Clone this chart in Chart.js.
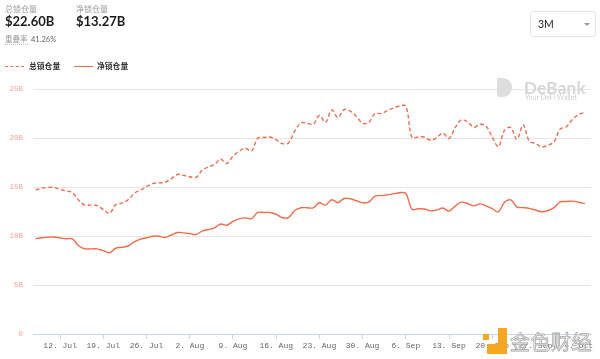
<!DOCTYPE html>
<html>
<head>
<meta charset="utf-8">
<script src="https://cdn.jsdelivr.net/npm/chart.js@4.4.0/dist/chart.umd.min.js"></script>
<style>
  html, body { margin: 0; padding: 0; background: #fff; }
  #wrap { position: relative; width: 600px; height: 359px; overflow: hidden; font-family: Lato, "Noto Sans CJK SC", sans-serif; }
  #chartBox { position: absolute; left: 0; top: 0; width: 600px; height: 359px; }
  .lbl { position: absolute; font-family: "Noto Sans CJK SC", sans-serif; font-size: 8px; color: #9a9a9a; line-height: 1; }
  .big { position: absolute; font-family: Lato, sans-serif; font-weight: 700; font-size: 13px; color: #1a1a1a; line-height: 1; }
  .legend { position: absolute; top: 62px; font-family: "Noto Sans CJK SC", sans-serif; font-weight: 700; font-size: 7.8px; color: #333; line-height: 1; }
  .sw { position: absolute; height: 0; width: 19px; }
  #dd { position: absolute; left: 530px; top: 11px; width: 66px; height: 26px; border: 1px solid #e3e3e3; border-radius: 3px; box-sizing: border-box; }
  #dd span { position: absolute; left: 7px; top: 6px; font-family: Lato, sans-serif; font-size: 10.5px; color: #222; }
  #dd i { position: absolute; left: 53px; top: 11px; width: 0; height: 0; border-left: 3px solid transparent; border-right: 3px solid transparent; border-top: 3px solid #999; }
  #debank { position: absolute; left: 497px; top: 77px; color: #d9d9d9; }
  #debank .logo { position: absolute; left: 0; top: 1px; width: 15px; height: 19px; background: #dedede; border-radius: 2px 9px 9px 2px; }
  #debank .t1 { position: absolute; left: 27px; top: 0px; font-family: Lato, sans-serif; font-weight: 700; font-size: 17px; color: #d6d6d6; letter-spacing: 0.3px; white-space: nowrap; }
  #debank .t2 { position: absolute; left: 28px; top: 16px; font-family: Lato, sans-serif; font-size: 7px; color: #cfcfcf; white-space: nowrap; }
  #jinse { position: absolute; left: 483px; top: 324px; width: 117px; height: 35px; }
  #jinse .o1 { position: absolute; left: 4px; top: 4px; width: 20px; height: 26px; background: #f5a623; clip-path: polygon(55% 0, 100% 0, 100% 100%, 0 100%, 0 62%, 55% 62%); }
  #jinse .o2 { position: absolute; left: 0px; top: 10px; width: 6px; height: 6px; background: #f5a623; }
  #jinse .t { position: absolute; left: 27px; top: 3px; font-family: "Noto Sans CJK SC", sans-serif; font-size: 20px; color: #fff; -webkit-text-stroke: 0.8px #a8a8a8; letter-spacing: 0.5px; white-space: nowrap; }
</style>
</head>
<body>
<div id="wrap">
  <div id="chartBox"><canvas id="c" width="600" height="359"></canvas></div>

  <div class="lbl" style="left:5px;top:5px;">总锁仓量</div>
  <div class="big" style="left:5px;top:15px;">$22.60B</div>
  <div class="lbl" style="left:76px;top:5px;">净锁仓量</div>
  <div class="big" style="left:76px;top:15px;">$13.27B</div>
  <div class="lbl" style="left:5px;top:35px;font-size:7.5px;border-bottom:1px dotted #bbb;padding-bottom:1px;">重叠率</div>
  <div class="lbl" style="left:31px;top:36px;font-family:Lato,sans-serif;font-size:7.5px;color:#666;">41.26%</div>

  <div class="sw" style="left:5px;top:66px;border-top:1.5px dashed #ee6c4d;"></div>
  <div class="legend" style="left:29px;">总锁仓量</div>
  <div class="sw" style="left:74px;top:66px;border-top:1.5px solid #ee6c4d;"></div>
  <div class="legend" style="left:97px;">净锁仓量</div>

  <div id="dd"><span>3M</span><i></i></div>

  <div id="debank"><div class="logo"></div><div class="t1">DeBank</div><div class="t2">Your DeFi Wallet</div></div>
  <div id="jinse"><div class="o1"></div><div class="o2"></div><div class="t">金色财经</div></div>
</div>
<script>
// Day offsets: 0 = 12 Jul; first value is 8 Jul (offset -4), one value per day.
const firstDay = -4;
const tickLabels = ["12. Jul","19. Jul","26. Jul","2. Aug","9. Aug","16. Aug","23. Aug","30. Aug","6. Sep","13. Sep","20. Sep","27. Sep","4. Oct"];
// Total locked value (B USD)
const totalTVL = [14.7,14.88,14.95,14.95,14.75,14.6,14.42,13.65,13.15,13.15,13.1,12.7,12.3,13.2,13.35,13.7,14.35,14.68,15.03,15.35,15.42,15.48,15.85,16.28,16.18,16.05,15.97,16.7,17.05,17.28,17.85,17.4,18.15,18.65,18.95,18.67,19.97,20.05,20.1,19.8,19.43,19.5,20.7,21.55,21.5,21.4,22.3,21.6,22.86,22.08,22.9,22.75,22.2,21.5,21.6,22.5,22.5,22.8,23.05,23.27,23.25,20.05,20.1,20.1,19.77,20.04,20.5,19.94,21.06,21.85,21.65,21.1,21.4,21.2,20.1,19.12,20.8,21.06,19.87,21.33,19.68,19.45,19.08,19.25,19.6,20.9,21.15,21.9,22.4,22.6];
// Net locked value (B USD)
const netTVL = [9.72,9.82,9.87,9.9,9.8,9.72,9.71,9.0,8.69,8.69,8.69,8.5,8.3,8.75,8.85,8.98,9.4,9.68,9.82,9.98,9.98,9.85,10.1,10.36,10.32,10.24,10.15,10.5,10.66,10.84,11.22,11.1,11.5,11.75,11.85,11.76,12.4,12.4,12.4,12.22,11.86,11.9,12.6,12.88,12.88,12.88,13.39,13.15,13.7,13.4,13.83,13.8,13.6,13.39,13.45,14.07,14.12,14.2,14.3,14.42,14.35,12.72,12.78,12.75,12.56,12.64,12.86,12.54,13.05,13.45,13.32,13.07,13.28,13.08,12.8,12.47,13.45,13.68,12.95,12.9,12.82,12.65,12.47,12.58,12.9,13.48,13.52,13.56,13.45,13.3];
const yTicks = [0,5,10,15,20,25];

const toPts = arr => arr.map((v, i) => ({ x: firstDay + i, y: v }));
const lineColor = '#ee6c4d';

new Chart(document.getElementById('c'), {
  type: 'line',
  data: {
    datasets: [
      { label: '总锁仓量', data: toPts(totalTVL), borderColor: lineColor, borderWidth: 1.4, borderDash: [4, 2.5], pointRadius: 0, tension: 0.35, fill: false },
      { label: '净锁仓量', data: toPts(netTVL), borderColor: lineColor, borderWidth: 1.4, pointRadius: 0, tension: 0.35, fill: false }
    ]
  },
  options: {
    responsive: false,
    animation: false,
    events: [],
    layout: { padding: { top: 89, right: 9, left: 0, bottom: 0 } },
    plugins: { legend: { display: false }, tooltip: { enabled: false } },
    scales: {
      x: {
        type: 'linear',
        min: -4.4,
        max: 86,
        afterFit: s => { s.height = 25; },
        ticks: {
          stepSize: 7,
          includeBounds: false,
          autoSkip: false,
          maxRotation: 0,
          padding: 2,
          color: '#666',
          font: { family: '"Liberation Mono", monospace', size: 8 },
          callback: v => { const k = v / 7; return Number.isInteger(k) && tickLabels[k] ? tickLabels[k] : ''; }
        },
        grid: { drawOnChartArea: false, drawTicks: true, tickLength: 5, color: '#ccd6eb' },
        border: { display: true, color: '#ccd6eb' }
      },
      y: {
        min: 0,
        max: 25,
        afterFit: s => { s.width = 33; },
        afterBuildTicks: s => { s.ticks = yTicks.map(v => ({ value: v })); },
        ticks: {
          padding: 10,
          color: '#f4a09a',
          font: { family: '"Liberation Mono", monospace', size: 7.5 },
          callback: v => v === 0 ? '0' : v + 'B'
        },
        grid: { color: '#e6e6e6', drawTicks: false },
        border: { display: false }
      }
    }
  }
});
</script>
</body>
</html>
